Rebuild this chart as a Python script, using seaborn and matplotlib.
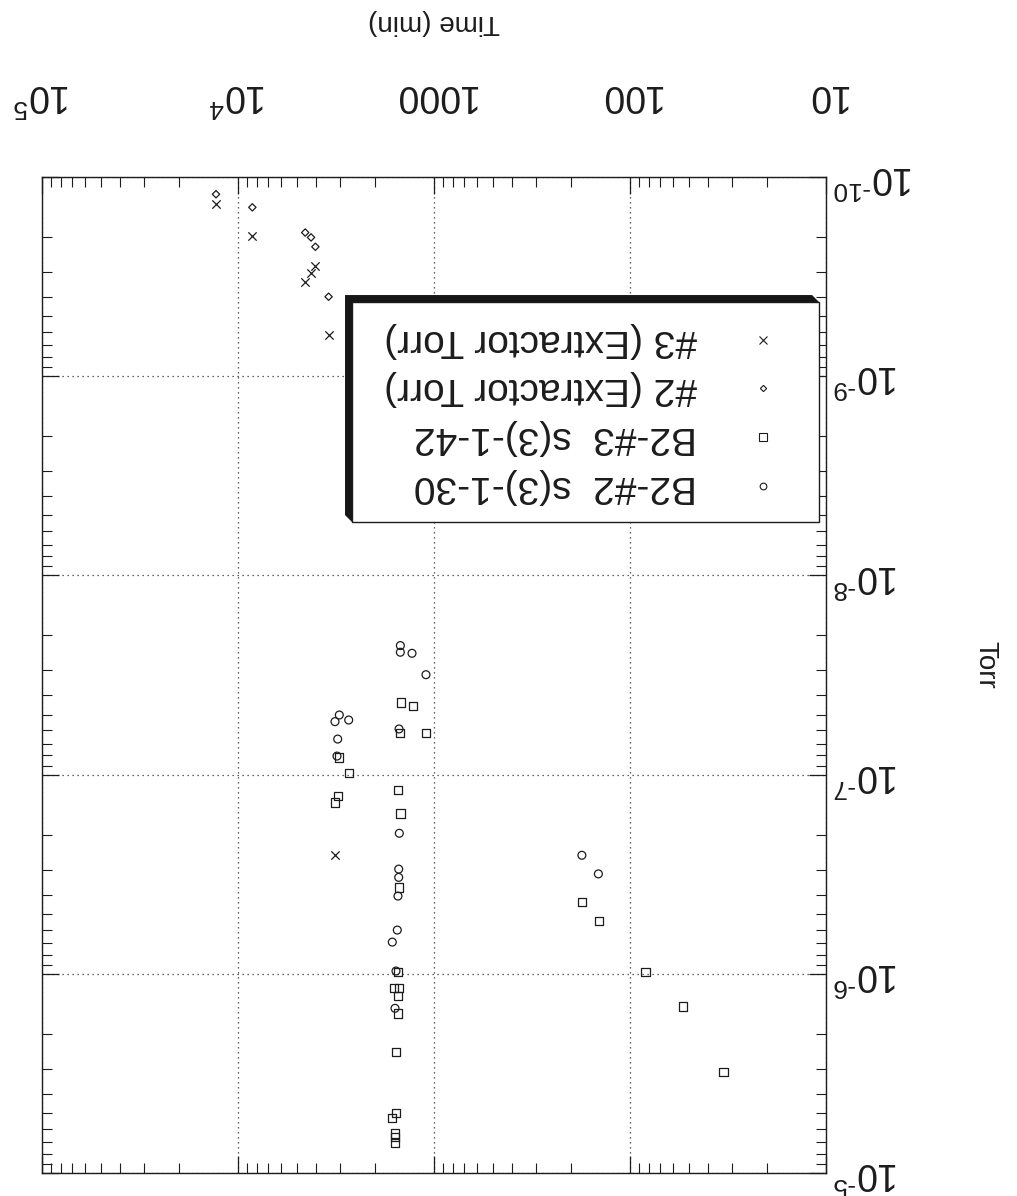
import matplotlib
matplotlib.use("Agg")
import matplotlib.pyplot as plt
from matplotlib.markers import MarkerStyle
from matplotlib.patches import Rectangle, Polygon
from matplotlib.lines import Line2D
from matplotlib.ticker import NullFormatter
import seaborn as sns

# ---------------------------------------------------------------- data
# B2-#2  s(3)-1-30 : pump-down time (min) and pressure (Torr)
b2_2_time = [1485, 1485, 1295, 1099, 1508, 3200, 3042, 2724, 3100, 3126,
             1503, 1514, 1514, 1527, 1539, 1632, 1563, 1581, 176, 145]
b2_2_torr = [2.25e-8, 2.43e-8, 2.46e-8, 3.15e-8, 5.90e-8, 5.42e-8, 5.02e-8,
             5.32e-8, 6.63e-8, 8.07e-8, 1.97e-7, 2.98e-7, 3.28e-7, 4.07e-7,
             6.03e-7, 6.93e-7, 9.68e-7, 1.49e-6, 2.54e-7, 3.15e-7]

# B2-#3  s(3)-1-42
b2_3_time = [1468, 1284, 1491, 1099, 3052, 2724, 3100, 3189, 1521, 1485,
             1503, 1527, 1600, 1514, 1527, 1532, 1557, 1568, 1632, 1581,
             1587, 1581, 176, 144, 83.5, 53.5, 33.3]
b2_3_torr = [4.34e-8, 4.52e-8, 6.18e-8, 6.20e-8, 8.19e-8, 9.85e-8, 1.28e-7,
             1.38e-7, 1.19e-7, 1.57e-7, 3.68e-7, 9.79e-7, 1.18e-6, 1.18e-6,
             1.29e-6, 1.58e-6, 2.46e-6, 5.00e-6, 5.31e-6, 6.32e-6, 6.57e-6,
             7.05e-6, 4.36e-7, 5.41e-7, 9.79e-7, 1.46e-6, 3.12e-6]

# #2 gauge (Extractor Torr)
ext2_time = [12950, 8450, 4540, 4240, 4030, 3450]
ext2_torr = [1.22e-10, 1.42e-10, 1.90e-10, 2.01e-10, 2.24e-10, 3.99e-10]

# #3 gauge (Extractor Torr)
ext3_time = [12990, 8450, 4030, 4240, 4540, 3430, 3200]
ext3_torr = [1.36e-10, 1.98e-10, 2.80e-10, 3.02e-10, 3.38e-10, 6.21e-10, 2.54e-7]

series_labels = ["B2-#2  s(3)-1-30", "B2-#3  s(3)-1-42",
                 "#2 (Extractor Torr)", "#3 (Extractor Torr)"]

x_ticks = [10, 100, 1000, 1e4, 1e5]
x_tick_labels = ["10", "100", "1000", r"10$^{4}$", r"10$^{5}$"]
y_ticks = [1e-10, 1e-9, 1e-8, 1e-7, 1e-6, 1e-5]
y_tick_labels = [r"10$^{\text{-10}}$", r"10$^{\text{-9}}$", r"10$^{\text{-8}}$",
                 r"10$^{\text{-7}}$", r"10$^{\text{-6}}$", r"10$^{\text{-5}}$"]

# ---------------------------------------------------------------- style
sns.set_theme(style="white")
plt.rcParams["font.family"] = ["Liberation Sans", "DejaVu Sans"]
plt.rcParams["mathtext.fontset"] = "custom"
plt.rcParams["mathtext.rm"] = "Liberation Sans"
plt.rcParams["mathtext.it"] = "Liberation Sans:italic"
plt.rcParams["mathtext.bf"] = "Liberation Sans:bold"

INK = "#1c1c1c"

fig = plt.figure(figsize=(10.17, 11.96), dpi=100)
ax = fig.add_axes([0.0413, 0.0192, 0.7709, 0.8328])
ax.set_xscale("log")
ax.set_yscale("log")

markers = {
    series_labels[0]: (MarkerStyle("o", fillstyle="none"), 32),
    series_labels[1]: (MarkerStyle("s", fillstyle="none"), 36),
    series_labels[2]: (MarkerStyle("D", fillstyle="none"), 14),
    series_labels[3]: (MarkerStyle("x"), 36),
}
series_data = {
    series_labels[0]: (b2_2_time, b2_2_torr),
    series_labels[1]: (b2_3_time, b2_3_torr),
    series_labels[2]: (ext2_time, ext2_torr),
    series_labels[3]: (ext3_time, ext3_torr),
}

for name, (t, p) in series_data.items():
    mk, size = markers[name]
    sns.scatterplot(x=t, y=p, ax=ax, marker=mk, s=size, color=INK,
                    edgecolor=None, linewidth=0.9, legend=False, zorder=3)

# inverted log axes (the page is printed upside down)
ax.set_xlim(1e5, 10)
ax.set_ylim(1e-5, 1e-10)

ax.set_xticks(x_ticks, labels=x_tick_labels)
ax.set_yticks(y_ticks, labels=y_tick_labels)
ax.xaxis.set_minor_formatter(NullFormatter())
ax.yaxis.set_minor_formatter(NullFormatter())

ax.tick_params(which="both", direction="in", top=True, bottom=True,
               left=True, right=True, labeltop=True, labelbottom=False,
               labelleft=False, labelright=True, color=INK)
ax.tick_params(which="major", length=12, width=0.9)
ax.tick_params(which="minor", length=7, width=0.8)
ax.tick_params(axis="x", which="major", labelsize=27, pad=46,
               labelrotation=180, labelcolor=INK)
ax.tick_params(axis="y", which="major", labelsize=27, pad=5,
               labelrotation=180, labelcolor=INK)
for lbl in ax.get_yticklabels():
    lbl.set_verticalalignment("center")

ax.grid(True, which="major", color="#333333", linestyle=(0, (1, 3)),
        linewidth=0.9)
ax.grid(False, which="minor")
for sp in ax.spines.values():
    sp.set_color(INK)
    sp.set_linewidth(1.0)

# axis titles
ax.set_xlabel("Time (min)", fontsize=20, rotation=180, color=INK)
ax.xaxis.set_label_position("top")
ax.xaxis.set_label_coords(0.5, 1.1556)
ax.xaxis.label.set_verticalalignment("center")
ax.xaxis.label.set_horizontalalignment("center")

ax.set_ylabel("Torr", fontsize=20, rotation=270, color=INK)
ax.yaxis.set_label_position("right")
ax.yaxis.set_label_coords(1.2028, 0.51)
ax.yaxis.label.set_verticalalignment("center")
ax.yaxis.label.set_horizontalalignment("center")

# key box with drop shadow (shadow sits above-left, chamfered corners)
x0, x1, y0, y1 = 0.3954, 0.9911, 0.6536, 0.8745
dx, dy = 0.0089, 0.0070
shadow = Polygon([(x0, y0), (x0 - dx, y0 + dy), (x0 - dx, y1 + dy),
                  (x1 - dx, y1 + dy), (x1, y1)],
                 closed=True, transform=ax.transAxes, facecolor="#161616",
                 edgecolor="none", zorder=5, clip_on=False)
ax.add_patch(shadow)
ax.add_patch(Rectangle((x0, y0), x1 - x0, y1 - y0, transform=ax.transAxes,
                       facecolor="white", edgecolor=INK, linewidth=1.0,
                       zorder=6, clip_on=False))

key_rows = [
    (series_labels[3], 0.8363),
    (series_labels[2], 0.7882),
    (series_labels[1], 0.7390),
    (series_labels[0], 0.6898),
]
for name, fy in key_rows:
    mk, size = markers[name]
    ax.add_artist(Line2D([0.9196], [fy], transform=ax.transAxes, marker=mk,
                         markersize=size ** 0.5 * 0.85, markeredgewidth=0.8,
                         color=INK, linestyle="none", zorder=7, clip_on=False))
    ax.text(0.8355, fy, name, transform=ax.transAxes, rotation=180,
            ha="right", va="center", fontsize=28, color=INK, zorder=7)

fig.savefig("out.png", dpi=100)
